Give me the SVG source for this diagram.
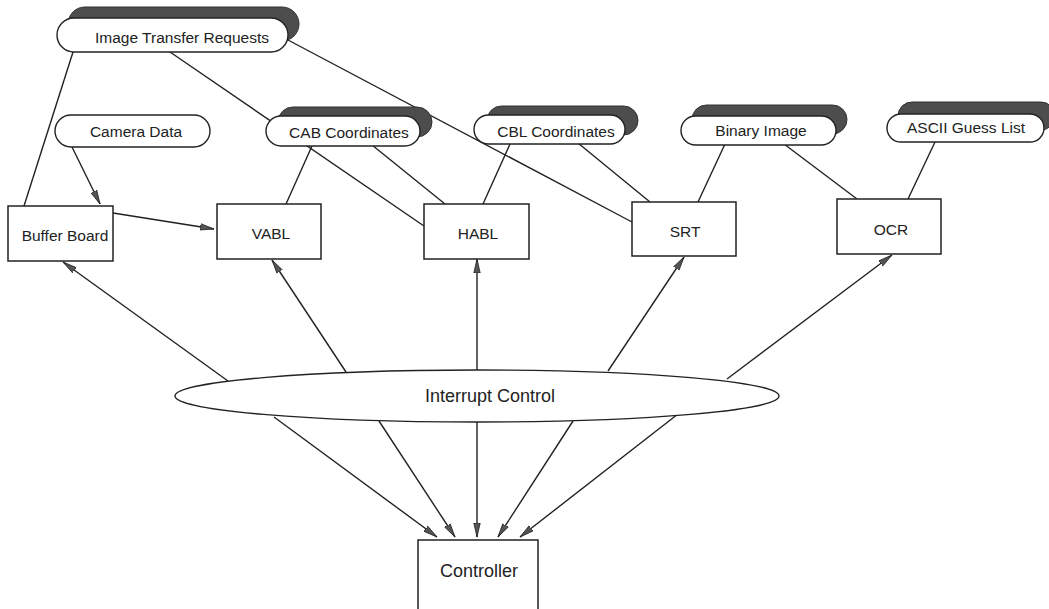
<svg xmlns="http://www.w3.org/2000/svg" width="1049" height="609" viewBox="0 0 1049 609">
<defs>
<style>
.ln{stroke:#222;stroke-width:1.4;fill:none}
.arr{marker-end:url(#ah)}
.box{fill:#fff;stroke:#222;stroke-width:1.5}
.pill{fill:#fff;stroke:#222;stroke-width:1.4}
.sh{fill:#4d4d4d;stroke:#333;stroke-width:1}
.t{font-family:"Liberation Sans",Arial,sans-serif;font-size:15.5px;fill:#222;text-anchor:middle}
.tb{font-size:18px}
</style>
<marker id="ah" viewBox="0 0 14 8" refX="14" refY="4" markerWidth="14" markerHeight="8" markerUnits="userSpaceOnUse" orient="auto">
<path d="M0,0.8 L14,4 L0,7.2 Z" fill="#555" stroke="#222" stroke-width="0.8"/>
</marker>
</defs>
<rect width="1049" height="609" fill="#fff"/>
<g id="connectors">
<line class="ln" x1="73" y1="52" x2="24" y2="206"/>
<line class="ln" x1="170" y1="52" x2="424" y2="226"/>
<line class="ln" x1="288" y1="40" x2="632" y2="222"/>
<line class="ln arr" x1="72" y1="147" x2="100" y2="204"/>
<line class="ln arr" x1="113" y1="213" x2="214" y2="229"/>
<line class="ln" x1="312" y1="146" x2="286" y2="204"/>
<line class="ln" x1="372" y1="145" x2="445" y2="204"/>
<line class="ln" x1="510" y1="144" x2="483" y2="204"/>
<line class="ln" x1="578" y1="143" x2="650" y2="202"/>
<line class="ln" x1="725" y1="144" x2="698" y2="202"/>
<line class="ln" x1="784" y1="144" x2="857" y2="199"/>
<line class="ln" x1="935" y1="142" x2="908" y2="199"/>
<line class="ln arr" x1="228" y1="381" x2="63" y2="262"/>
<line class="ln arr" x1="346" y1="372" x2="272" y2="260"/>
<line class="ln arr" x1="477" y1="370" x2="477" y2="259"/>
<line class="ln arr" x1="608" y1="371" x2="684" y2="257"/>
<line class="ln arr" x1="727" y1="379" x2="892" y2="255"/>
<line class="ln arr" x1="274" y1="417" x2="437" y2="537"/>
<line class="ln arr" x1="379" y1="421" x2="455" y2="537"/>
<line class="ln arr" x1="477" y1="422" x2="477" y2="537"/>
<line class="ln arr" x1="573" y1="421" x2="498" y2="537"/>
<line class="ln arr" x1="678" y1="414" x2="520" y2="537"/>
</g>
<g id="itr">
<rect class="sh" x="68" y="7" width="231" height="34" rx="17"/>
<rect class="pill" x="57" y="18" width="231" height="34" rx="17"/>
<text class="t" x="182" y="43">Image Transfer Requests</text>
</g>
<g id="camera">
<rect class="pill" x="55" y="115" width="155" height="32" rx="16"/>
<text class="t" x="136" y="137">Camera Data</text>
</g>
<g id="cab">
<rect class="sh" x="278" y="107" width="154" height="30" rx="15"/>
<rect class="pill" x="266" y="116" width="154" height="30" rx="15"/>
<text class="t" x="349" y="138">CAB Coordinates</text>
</g>
<g id="cbl">
<rect class="sh" x="487" y="106" width="151" height="29" rx="14.5"/>
<rect class="pill" x="474" y="115" width="151" height="29" rx="14.5"/>
<text class="t" x="556" y="137">CBL Coordinates</text>
</g>
<g id="binary">
<rect class="sh" x="692" y="105" width="155" height="29" rx="14.5"/>
<rect class="pill" x="681" y="116" width="155" height="29" rx="14.5"/>
<text class="t" x="761" y="136">Binary Image</text>
</g>
<g id="ascii">
<rect class="sh" x="898" y="102" width="157" height="28" rx="14"/>
<rect class="pill" x="887" y="114" width="157" height="28" rx="14"/>
<text class="t" x="966" y="133">ASCII Guess List</text>
</g>
<g id="buffer">
<rect class="box" x="8" y="206" width="105" height="55"/>
<text class="t" x="65" y="241">Buffer Board</text>
</g>
<g id="vabl">
<rect class="box" x="217" y="204" width="104" height="55"/>
<text class="t" x="271" y="239">VABL</text>
</g>
<g id="habl">
<rect class="box" x="424" y="204" width="105" height="55"/>
<text class="t" x="478" y="239">HABL</text>
</g>
<g id="srt">
<rect class="box" x="632" y="202" width="104" height="54"/>
<text class="t" x="685" y="237">SRT</text>
</g>
<g id="ocr">
<rect class="box" x="837" y="199" width="104" height="55"/>
<text class="t" x="891" y="235">OCR</text>
</g>
<g id="interrupt">
<ellipse class="pill" cx="477" cy="396" rx="302" ry="26"/>
<text class="t tb" x="490" y="402">Interrupt Control</text>
</g>
<g id="controller">
<rect class="box" x="418" y="540" width="120" height="80"/>
<text class="t tb" x="479" y="577">Controller</text>
</g>
</svg>
